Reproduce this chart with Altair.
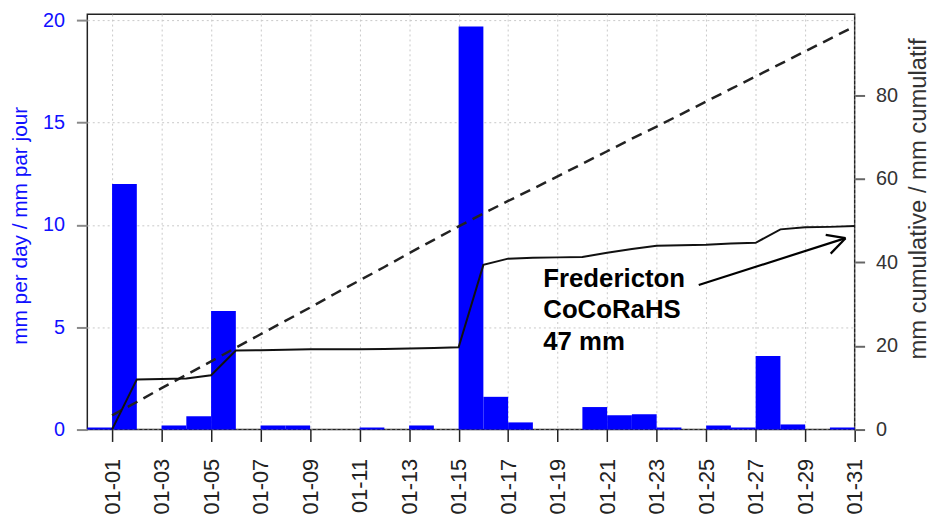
import altair as alt
import pandas as pd

# ---- data ----
days = list(range(1, 32))
date_labels = [f"01-{d:02d}" for d in days]

# daily precipitation (mm), bar for day d spans [d-1, d]
daily_mm = [0.1, 12.0, 0.0, 0.2, 0.65, 5.8, 0.0, 0.2, 0.2, 0.0,
            0.0, 0.1, 0.0, 0.2, 0.0, 19.7, 1.6, 0.35, 0.0, 0.0,
            1.1, 0.7, 0.75, 0.1, 0.0, 0.2, 0.1, 3.6, 0.25, 0.0, 0.1]

# observed cumulative (mm)
cumulative_mm = [0.0, 12.0, 12.1, 12.2, 13.0, 18.9, 19.0, 19.1, 19.2, 19.2,
                 19.2, 19.3, 19.4, 19.5, 19.7, 39.4, 40.9, 41.1, 41.2, 41.3,
                 42.3, 43.2, 44.0, 44.1, 44.2, 44.5, 44.7, 47.9, 48.4, 48.5, 48.7]

# normal cumulative (dashed)
normal_mm = [3.4, 6.6, 9.9, 13.1, 16.3, 19.6, 22.8, 26.0, 29.2, 32.5,
             35.7, 38.9, 42.2, 45.4, 48.6, 51.7, 54.7, 57.6, 60.6, 63.6,
             66.6, 69.6, 72.5, 75.5, 78.5, 81.5, 84.5, 87.5, 90.5, 93.5, 96.5]

annot_text = "Fredericton\nCoCoRaHS\n47 mm"
annot_pos = (18.42, 34.2)
# arrow segments (day, cumulative mm)
arrow_x = [24.7, 30.63, 30.63]
arrow_y = [34.6, 45.8, 45.8]
arrow_x2 = [30.63, 29.83, 30.03]
arrow_y2 = [45.8, 46.6, 42.1]

LEFT_MAX = 20.3
RIGHT_MAX = 99.4
BLUE = "#1010ff"
FONT = "Liberation Sans"

bars_df = pd.DataFrame({"start": [d - 1 for d in days], "end": days, "mm": daily_mm})
cum_df = pd.DataFrame({"day": days, "cum": cumulative_mm, "normal": normal_mm})
ann_df = pd.DataFrame({"x": [annot_pos[0]], "y": [annot_pos[1]], "t": [annot_text]})
arr_df = pd.DataFrame({"x": arrow_x, "y": arrow_y, "x2": arrow_x2, "y2": arrow_y2})

label_array = "[" + ",".join(f"'{s}'" for s in date_labels) + "]"
label_expr = f"datum.value % 2 == 1 ? {label_array}[datum.value - 1] : ''"

xscale = alt.Scale(domain=[0, 31], nice=False, zero=False)
xaxis = alt.Axis(
    values=days, labelExpr=label_expr, title=None, orient="bottom",
    labelAngle=270, labelFontSize=22, labelColor="#222", labelFont=FONT,
    labelPadding=17, labelFlush=False, labelOverlap=False,
    tickSize=12, tickWidth=1.5,
    tickColor={"condition": {"test": "datum.value % 2 == 1", "value": "#222"}, "value": "#999"},
    grid=True, gridColor="#c8c8c8", gridDash=[2, 3], gridWidth=1,
    gridOpacity={"condition": {"test": "datum.value % 2 == 1", "value": 1}, "value": 0},
    domain=False,
)

bars = alt.Chart(bars_df).mark_rect(color="#0000ff").encode(
    x=alt.X("start:Q", scale=xscale, axis=xaxis),
    x2="end:Q",
    y=alt.Y("mm:Q", scale=alt.Scale(domain=[0, LEFT_MAX], nice=False),
            axis=alt.Axis(values=[0, 5, 10, 15, 20], orient="left",
                          title="mm per day / mm par jour", titleColor=BLUE,
                          titleFontSize=21, titleFontWeight="normal", titleFont=FONT,
                          titleAngle=270, titleX=-61, titleY=213,
                          titleBaseline="alphabetic", titleAlign="center",
                          labelColor=BLUE, labelFontSize=20, labelFont=FONT,
                          labelPadding=12, labelFlush=False,
                          tickColor="#888", tickWidth=2, tickSize=11,
                          grid=True, gridColor="#c8c8c8", gridDash=[2, 3],
                          domain=False)),
    y2=alt.datum(0),
)

ryscale = alt.Scale(domain=[0, RIGHT_MAX], nice=False)
right_axis = alt.Axis(values=[0, 20, 40, 60, 80], orient="right",
                      title="mm cumulative / mm cumulatif", titleColor="#333",
                      titleFontSize=24, titleFontWeight="normal", titleFont=FONT,
                      titleAngle=270, titleX=71, titleY=186,
                      titleBaseline="alphabetic", titleAlign="center",
                      labelColor="#333", labelFontSize=20, labelFont=FONT,
                      labelPadding=11, labelFlush=False,
                      tickColor="#666", tickWidth=2, tickSize=10,
                      grid=False, domain=False)

cum_line = alt.Chart(cum_df).mark_line(color="#111", strokeWidth=2).encode(
    x=alt.X("day:Q", scale=xscale),
    y=alt.Y("cum:Q", scale=ryscale, axis=right_axis),
)

norm_line = alt.Chart(cum_df).mark_line(color="#222", strokeWidth=2.5, strokeDash=[11, 7]).encode(
    x=alt.X("day:Q", scale=xscale),
    y=alt.Y("normal:Q", scale=ryscale, axis=right_axis),
)

ann = alt.Chart(ann_df).mark_text(
    align="left", baseline="alphabetic", fontSize=26, fontWeight="bold",
    font=FONT, color="#000", lineBreak="\n", lineHeight=32,
).encode(
    x=alt.X("x:Q", scale=xscale),
    y=alt.Y("y:Q", scale=ryscale, axis=right_axis),
    text="t:N",
)

arrow = alt.Chart(arr_df).mark_rule(color="#000", strokeWidth=2.2).encode(
    x=alt.X("x:Q", scale=xscale),
    x2="x2:Q",
    y=alt.Y("y:Q", scale=ryscale, axis=right_axis),
    y2="y2:Q",
)

right = alt.layer(norm_line, cum_line, arrow, ann)

chart = alt.layer(bars, right).resolve_scale(y="independent").properties(
    width=774, height=419,
    autosize=alt.AutoSizeParams(type="none"),
    padding={"left": 80, "top": 4, "right": 79, "bottom": 88},
).configure_view(stroke="#222", strokeWidth=1.5)

chart.save("out.html", embed_options={"renderer": "svg", "actions": False})
